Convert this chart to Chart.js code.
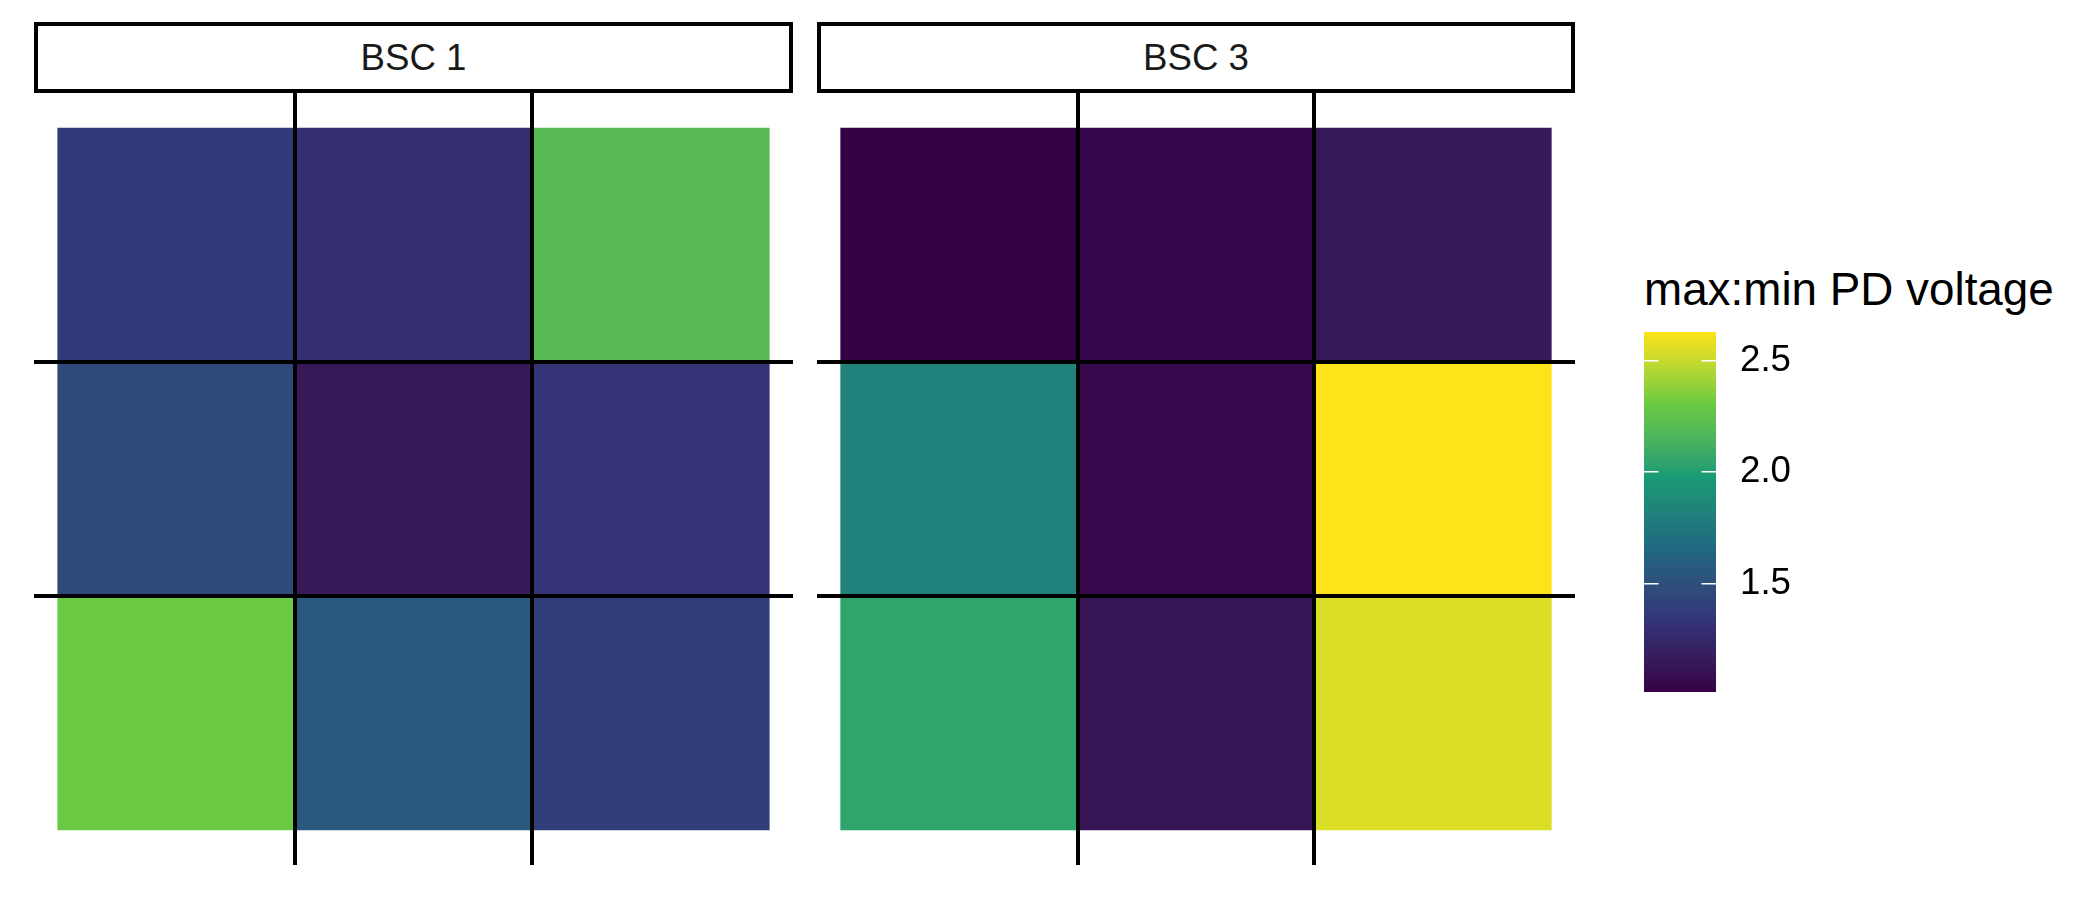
<!DOCTYPE html>
<html>
<head>
<meta charset="utf-8">
<script src="https://cdn.jsdelivr.net/npm/chart.js@4.4.1/dist/chart.umd.min.js"></script>
<style>
  html, body { margin: 0; padding: 0; background: #fff; }
  #page { position: relative; width: 2100px; height: 900px; overflow: hidden; background: #fff;
          font-family: "Liberation Sans", Arial, sans-serif; }
  .strip { position: absolute; top: 22px; height: 71px; box-sizing: border-box; border: 4.5px solid #000;
           background: #fff; display: flex; align-items: center; justify-content: center;
           font-size: 36.7px; color: #1a1a1a; }
  canvas { position: absolute; }
  #legendTitle { position: absolute; left: 1644px; top: 267px; font-size: 45.8px; line-height: 1; color: #000; white-space: nowrap; }
</style>
</head>
<body>
<div id="page">
  <div class="strip" id="strip1" style="left:34px;width:759px;"></div>
  <div class="strip" id="strip2" style="left:817px;width:758px;"></div>
  <canvas id="panel1" width="759" height="772" style="left:34px;top:93px;"></canvas>
  <canvas id="panel2" width="758" height="772" style="left:817px;top:93px;"></canvas>
  <div id="legendTitle"></div>
  <canvas id="colorbar" width="192" height="360" style="left:1644px;top:332px;"></canvas>
</div>
<script>
// ---------------- data ----------------
const panelLabels = ["BSC 1", "BSC 3"];
const legendTitle = "max:min PD voltage";
// cells listed top row first, left to right
const cellCol = [1, 2, 3, 1, 2, 3, 1, 2, 3];
const cellRow = [3, 3, 3, 2, 2, 2, 1, 1, 1];
const bsc1Values = [1.37, 1.29, 2.20,
                    1.46, 1.15, 1.32,
                    2.30, 1.56, 1.39];
const bsc3Values = [1.013, 1.05, 1.15,
                    1.82, 1.06, 2.628,
                    2.04, 1.12, 2.55];
const gridBreaks = [1.5, 2.5];
const legendTicks = [1.5, 2.0, 2.5];
const viridisStops = ["#440154", "#414487", "#2A788E", "#22A884", "#7AD151", "#FDE725"];
const displayGamma = 1.18;

// ---------------- colour scale (Lab interpolation, like ggplot) ----------------
function hexToRgb(h) { return [1, 3, 5].map(i => parseInt(h.substr(i, 2), 16) / 255); }
function toLin(c) { return c <= 0.04045 ? c / 12.92 : Math.pow((c + 0.055) / 1.055, 2.4); }
function fromLin(c) { return c <= 0.0031308 ? 12.92 * c : 1.055 * Math.pow(c, 1 / 2.4) - 0.055; }
const WN = [0.95047, 1.0, 1.08883];
function rgbToLab(rgb) {
  const [r, g, b] = rgb.map(toLin);
  const X = 0.4124564 * r + 0.3575761 * g + 0.1804375 * b;
  const Y = 0.2126729 * r + 0.7151522 * g + 0.0721750 * b;
  const Z = 0.0193339 * r + 0.1191920 * g + 0.9503041 * b;
  const f = t => t > 0.008856 ? Math.cbrt(t) : 7.787 * t + 16 / 116;
  const fx = f(X / WN[0]), fy = f(Y / WN[1]), fz = f(Z / WN[2]);
  return [116 * fy - 16, 500 * (fx - fy), 200 * (fy - fz)];
}
function labToRgb(lab) {
  const fy = (lab[0] + 16) / 116, fx = fy + lab[1] / 500, fz = fy - lab[2] / 200;
  const fi = t => t * t * t > 0.008856 ? t * t * t : (t - 16 / 116) / 7.787;
  const X = fi(fx) * WN[0], Y = fi(fy) * WN[1], Z = fi(fz) * WN[2];
  const r = 3.2404542 * X - 1.5371385 * Y - 0.4985314 * Z;
  const g = -0.9692660 * X + 1.8760108 * Y + 0.0415560 * Z;
  const b = 0.0556434 * X - 0.2040259 * Y + 1.0572252 * Z;
  return [r, g, b].map(c => Math.min(1, Math.max(0, fromLin(c))));
}
const stopLabs = viridisStops.map(h => rgbToLab(hexToRgb(h)));
const allValues = bsc1Values.concat(bsc3Values);
const vMin = Math.min(...allValues);
const vMax = Math.max(...allValues);
function colorFor(v) {
  let t = (v - vMin) / (vMax - vMin);
  t = Math.min(1, Math.max(0, t));
  const n = stopLabs.length - 1;
  const seg = Math.min(n - 1, Math.floor(t * n));
  const u = t * n - seg;
  const a = stopLabs[seg], b = stopLabs[seg + 1];
  const rgb = labToRgb([0, 1, 2].map(k => a[k] + (b[k] - a[k]) * u))
    .map(c => Math.round(Math.pow(c, displayGamma) * 255));
  return `rgb(${rgb[0]},${rgb[1]},${rgb[2]})`;
}

// ---------------- text ----------------
document.getElementById('strip1').textContent = panelLabels[0];
document.getElementById('strip2').textContent = panelLabels[1];
document.getElementById('legendTitle').textContent = legendTitle;

Chart.defaults.font.family = '"Liberation Sans", Arial, sans-serif';

// ---------------- panels ----------------
function gridAxis(min, max) {
  return {
    type: 'linear', min: min, max: max, offset: false,
    afterBuildTicks: s => { s.ticks = gridBreaks.map(v => ({ value: v })); },
    ticks: { display: false },
    grid: { color: '#000000', lineWidth: 4, drawTicks: false, offset: false, z: 1 },
    border: { display: false }
  };
}
function makePanel(id, values) {
  const data = values.map((v, i) => ({ x: cellCol[i], y: [cellRow[i] - 0.5, cellRow[i] + 0.5] }));
  new Chart(document.getElementById(id), {
    type: 'bar',
    data: { datasets: [{
      data: data,
      backgroundColor: values.map(colorFor),
      borderWidth: 0, barPercentage: 1, categoryPercentage: 1
    }] },
    options: {
      responsive: false, maintainAspectRatio: false, animation: false,
      layout: { padding: 0 },
      plugins: { legend: { display: false }, tooltip: { enabled: false }, title: { display: false } },
      scales: { x: gridAxis(0.4, 3.6), y: gridAxis(0.35, 3.65) }
    }
  });
}
makePanel('panel1', bsc1Values);
makePanel('panel2', bsc3Values);

// ---------------- colour bar ----------------
new Chart(document.getElementById('colorbar'), {
  type: 'bar',
  data: { labels: [''], datasets: [{
    data: [[vMin, vMax]],
    backgroundColor: (ctx) => {
      const chart = ctx.chart, area = chart.chartArea;
      if (!area) return '#888';
      const g = chart.ctx.createLinearGradient(0, area.bottom, 0, area.top);
      const N = 60;
      for (let k = 0; k <= N; k++) g.addColorStop(k / N, colorFor(vMin + (vMax - vMin) * k / N));
      return g;
    },
    borderWidth: 0, barPercentage: 1, categoryPercentage: 1
  }] },
  options: {
    responsive: false, maintainAspectRatio: false, animation: false,
    layout: { padding: 0 },
    plugins: { legend: { display: false }, tooltip: { enabled: false } },
    scales: {
      x: { display: false, offset: true },
      y: {
        type: 'linear', position: 'right', min: vMin, max: vMax,
        afterBuildTicks: s => { s.ticks = legendTicks.map(v => ({ value: v })); },
        afterFit: s => { s.width = 120; s.paddingTop = 0; s.paddingBottom = 0; },
        ticks: { color: '#000', padding: 24, font: { size: 36.7 }, callback: v => Number(v).toFixed(1) },
        grid: { color: '#ffffff', lineWidth: 1.6, drawTicks: false, z: 1 },
        border: { display: false, dash: [14.5, 43, 14.5] }
      }
    }
  }
});
</script>
</body>
</html>
